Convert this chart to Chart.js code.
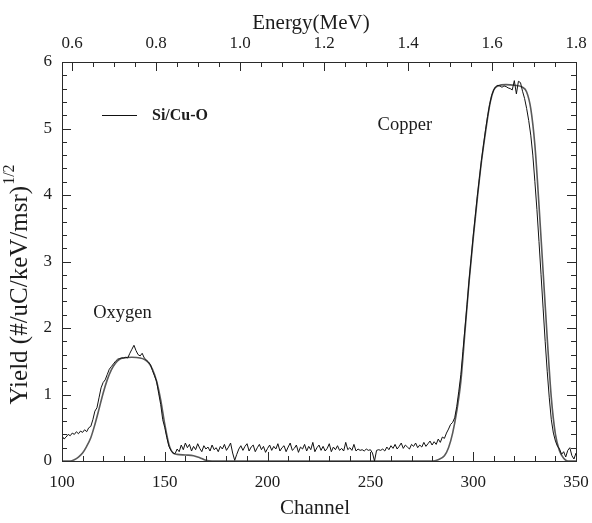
<!DOCTYPE html>
<html>
<head>
<meta charset="utf-8">
<script src="https://cdn.jsdelivr.net/npm/chart.js@4/dist/chart.umd.min.js"></script>
<style>
  html, body { margin: 0; padding: 0; background: #fff; }
  canvas { display: block; }
</style>
</head>
<body>
<canvas id="c" width="592" height="523"></canvas>
<script>
// ---------------- DATA ----------------
// Experimental spectrum (black, noisy): one value per channel, channels 100..350
const expFirstChannel = 100;
const expYield = [
  0.38,0.33,0.36,0.40,0.38,0.42,0.40,0.44,0.41,0.45, // 100-109
  0.43,0.47,0.44,0.50,0.52,0.62,0.75,0.80,0.95,1.10, // 110-119
  1.18,1.22,1.30,1.38,1.42,1.46,1.50,1.53,1.54,1.55, // 120-129
  1.55,1.56,1.55,1.62,1.68,1.74,1.66,1.60,1.58,1.62, // 130-139
  1.55,1.52,1.49,1.45,1.36,1.28,1.20,1.02,0.85,0.62, // 140-149
  0.50,0.35,0.22,0.16,0.12,0.11,0.18,0.14,0.24,0.17, // 150-159
  0.27,0.20,0.25,0.15,0.22,0.17,0.26,0.19,0.14,0.23, // 160-169
  0.18,0.21,0.15,0.24,0.17,0.20,0.14,0.22,0.18,0.25, // 170-179
  0.16,0.21,0.27,0.12,0.01,0.10,0.18,0.23,0.16,0.22, // 180-189
  0.26,0.15,0.21,0.24,0.14,0.20,0.25,0.17,0.22,0.13, // 190-199
  0.19,0.24,0.16,0.22,0.18,0.26,0.15,0.20,0.23,0.14, // 200-209
  0.21,0.27,0.16,0.19,0.24,0.13,0.21,0.18,0.25,0.15, // 210-219
  0.22,0.17,0.28,0.14,0.20,0.24,0.16,0.22,0.15,0.19, // 220-229
  0.26,0.14,0.21,0.17,0.23,0.16,0.19,0.15,0.28,0.17, // 230-239
  0.20,0.16,0.25,0.15,0.18,0.16,0.17,0.15,0.18,0.16, // 240-249
  0.17,0.12,0.00,0.16,0.17,0.16,0.18,0.15,0.21,0.17, // 250-259
  0.23,0.19,0.25,0.18,0.22,0.27,0.19,0.24,0.21,0.18, // 260-269
  0.25,0.22,0.27,0.20,0.24,0.21,0.28,0.22,0.26,0.30, // 270-279
  0.24,0.29,0.25,0.33,0.28,0.36,0.34,0.42,0.48,0.55, // 280-289
  0.58,0.65,0.82,1.05,1.30,1.65,2.00,2.35,2.72,3.05, // 290-299
  3.38,3.68,3.98,4.25,4.52,4.75,4.98,5.18,5.36,5.50, // 300-309
  5.58,5.63,5.65,5.64,5.62,5.64,5.63,5.61,5.60,5.58, // 310-319
  5.72,5.52,5.71,5.69,5.56,5.45,5.30,5.12,4.90,4.60, // 320-329
  4.20,3.78,3.30,2.80,2.30,1.80,1.35,0.95,0.62,0.42, // 330-339
  0.30,0.22,0.18,0.10,0.14,0.06,0.16,0.20,0.08,0.03, // 340-349
  0.12                                               // 350
];
const expChannels = expYield.map((_, i) => expFirstChannel + i);

// Simulated spectrum (gray, smooth)
const simChannels = [100,104,106,108,110,112,114,116,118,120,122,124,126,128,130,134,138,140,142,144,146,148,150,152,154,156,160,164,167,170,173,
  280,283,286,288,290,292,294,296,298,300,302,304,306,308,310,312,316,320,324,326,328,330,332,334,336,338,340,342,344,346,350];
const simYield = [0,0,0.02,0.06,0.12,0.22,0.35,0.55,0.78,1.02,1.22,1.37,1.47,1.53,1.55,1.56,1.55,1.53,1.48,1.38,1.20,0.92,0.55,0.25,0.12,0.10,0.09,0.08,0.05,0.01,0,
  0,0.02,0.08,0.20,0.42,0.75,1.20,1.95,2.70,3.35,3.95,4.50,4.95,5.35,5.58,5.64,5.66,5.65,5.62,5.55,5.30,4.75,3.85,2.85,1.85,0.95,0.40,0.15,0.04,0,0];

// Axis tick labels
const channelTicks = [100,150,200,250,300,350];
const energyTicks = [0.6,0.8,1.0,1.2,1.4,1.6,1.8];
const yieldTicks = [0,1,2,3,4,5,6];
const energyMin = 0.576, energyMax = 1.8;

const seriesLabel = 'Si/Cu-O';
const peakLabels = [
  { text: 'Copper', channel: 253.5, value: 5.05 },
  { text: 'Oxygen', channel: 115.2, value: 2.22 }
];

// ---------------- CHART ----------------
const FONT = "'Liberation Serif', 'Times New Roman', serif";
const TXT = '#1c1c1c';

const framePlugin = {
  id: 'frame',
  afterDatasetsDraw(chart) {
    const { ctx, chartArea: a, scales } = chart;
    const x = scales.x, x2 = scales.x2, y = scales.y;
    ctx.save();
    ctx.strokeStyle = '#2a2a2a';
    ctx.lineWidth = 1;
    ctx.strokeRect(Math.round(a.left) + 0.5, Math.round(a.top) + 0.5,
                   Math.round(a.right - a.left), Math.round(a.bottom - a.top));
    ctx.beginPath();
    // bottom (channel) ticks, inward
    for (let v = 100; v <= 350; v += 10) {
      const px = Math.round(x.getPixelForValue(v)) + 0.5;
      const L = (v % 50 === 0) ? 9 : 5;
      ctx.moveTo(px, a.bottom); ctx.lineTo(px, a.bottom - L);
    }
    // top (energy) ticks, inward
    for (let k = 12; k <= 36; k++) {
      const v = k * 0.05;
      const px = Math.round(x2.getPixelForValue(v)) + 0.5;
      const L = (k % 4 === 0) ? 9 : 5;
      ctx.moveTo(px, a.top); ctx.lineTo(px, a.top + L);
    }
    // left and right (yield) ticks, inward
    for (let k = 0; k <= 30; k++) {
      const v = k * 0.2;
      const py = Math.round(y.getPixelForValue(v)) + 0.5;
      const L = (k % 5 === 0) ? 9 : 5;
      ctx.moveTo(a.left, py); ctx.lineTo(a.left + L, py);
      ctx.moveTo(a.right, py); ctx.lineTo(a.right - L, py);
    }
    ctx.stroke();

    // legend
    const ly = Math.round(y.getPixelForValue(5.2)) + 0.5;
    ctx.strokeStyle = '#111';
    ctx.lineWidth = 1.2;
    ctx.beginPath();
    ctx.moveTo(102, ly); ctx.lineTo(137, ly);
    ctx.stroke();
    ctx.fillStyle = TXT;
    ctx.font = "bold 16px " + FONT;
    ctx.textBaseline = 'middle';
    ctx.textAlign = 'left';
    ctx.fillText(seriesLabel, 152, ly);

    // peak annotations
    ctx.font = "18.5px " + FONT;
    peakLabels.forEach(p => {
      ctx.fillText(p.text, x.getPixelForValue(p.channel), y.getPixelForValue(p.value));
    });

    // axis titles
    ctx.font = "21px " + FONT;
    ctx.textAlign = 'center';
    ctx.fillText('Energy(MeV)', 311, 23);
    ctx.fillText('Channel', 315, 508);

    // y title with superscript
    ctx.translate(20, 285);
    ctx.rotate(-Math.PI / 2);
    const main = 'Yield (#/uC/keV/msr)';
    const sup = '1/2';
    ctx.font = "25px " + FONT;
    const w1 = ctx.measureText(main).width;
    ctx.font = "16px " + FONT;
    const w2 = ctx.measureText(sup).width;
    const start = -(w1 + w2) / 2;
    ctx.textAlign = 'left';
    ctx.font = "25px " + FONT;
    ctx.fillText(main, start, 0);
    ctx.font = "16px " + FONT;
    ctx.fillText(sup, start + w1 + 1, -10);
    ctx.restore();
  }
};

const tickFont = { family: FONT, size: 17 };
const noSidePad = s => { s.paddingLeft = 0; s.paddingRight = 0; };

new Chart(document.getElementById('c'), {
  type: 'line',
  data: {
    datasets: [
      {
        label: 'Simulation',
        data: simChannels.map((c, i) => ({ x: c, y: simYield[i] })),
        borderColor: '#5a5a5a',
        borderWidth: 1.6,
        pointRadius: 0,
        cubicInterpolationMode: 'monotone',
        fill: false,
        order: 2
      },
      {
        label: seriesLabel,
        data: expChannels.map((c, i) => ({ x: c, y: expYield[i] })),
        borderColor: '#111',
        borderWidth: 1,
        pointRadius: 0,
        tension: 0,
        fill: false,
        order: 1
      }
    ]
  },
  options: {
    responsive: false,
    animation: false,
    devicePixelRatio: 1,
    layout: { padding: { left: 0, right: 16, top: 0, bottom: 0 } },
    plugins: { legend: { display: false }, tooltip: { enabled: false }, title: { display: false } },
    scales: {
      x: {
        type: 'linear', position: 'bottom', min: 100, max: 350,
        afterBuildTicks: s => { s.ticks = channelTicks.map(v => ({ value: v })); },
        afterFit: s => { s.height = 62; noSidePad(s); },
        grid: { display: false, drawTicks: false },
        border: { display: false },
        ticks: { padding: 11, font: tickFont, color: TXT, maxRotation: 0, autoSkip: false }
      },
      x2: {
        type: 'linear', position: 'top', min: energyMin, max: energyMax,
        afterBuildTicks: s => { s.ticks = energyTicks.map(v => ({ value: v })); },
        afterFit: s => { s.height = 62; noSidePad(s); },
        grid: { display: false, drawTicks: false },
        border: { display: false },
        ticks: { padding: 8, font: tickFont, color: TXT, maxRotation: 0, autoSkip: false,
                 callback: v => Number(v).toFixed(1) }
      },
      y: {
        type: 'linear', position: 'left', min: 0, max: 6,
        afterBuildTicks: s => { s.ticks = yieldTicks.map(v => ({ value: v })); },
        afterFit: s => { s.width = 62; s.paddingTop = 0; s.paddingBottom = 0; },
        grid: { display: false, drawTicks: false },
        border: { display: false },
        ticks: { padding: 10, font: tickFont, color: TXT, autoSkip: false }
      }
    }
  },
  plugins: [framePlugin]
});
</script>
</body>
</html>
